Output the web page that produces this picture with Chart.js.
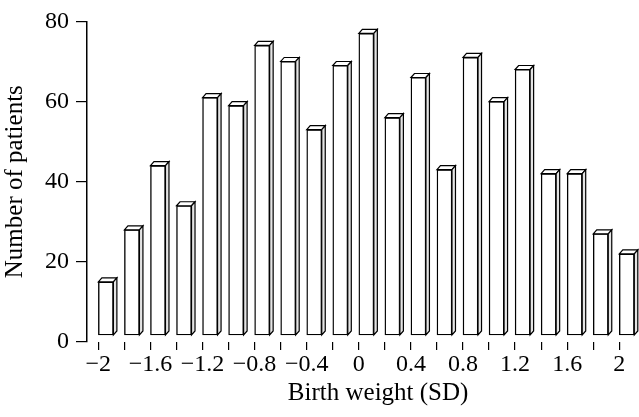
<!DOCTYPE html>
<html><head><meta charset="utf-8">
<script src="https://cdn.jsdelivr.net/npm/chart.js@4/dist/chart.umd.min.js"></script>
<style>html,body{margin:0;padding:0;background:#fff}#wrap{width:639px;height:417px}</style>
</head><body><div id="wrap"><canvas id="c" width="639" height="417"></canvas></div>
<script>
// ---- data ----
const birthWeightSD = [-2, -1.8, -1.6, -1.4, -1.2, -1, -0.8, -0.6, -0.4, -0.2, 0, 0.2, 0.4, 0.6, 0.8, 1, 1.2, 1.4, 1.6, 1.8, 2];
const patientCounts = [15, 28, 44, 34, 61, 59, 74, 70, 53, 69, 77, 56, 66, 43, 71, 60, 68, 42, 42, 27, 22];
const xTickValues = [-2, -1.8, -1.6, -1.4, -1.2, -1, -0.8, -0.6, -0.4, -0.2, 0, 0.2, 0.4, 0.6, 0.8, 1, 1.2, 1.4, 1.6, 1.8, 2];
const xTickLabels = ['\u22122', '', '\u22121.6', '', '\u22121.2', '', '\u22120.8', '', '\u22120.4', '', '0', '', '0.4', '', '0.8', '', '1.2', '', '1.6', '', '2'];
const yTickValues = [0, 20, 40, 60, 80];

// ---- layout config ----
const X_MIN = -2.087, X_MAX = 2.144, BAR_SHIFT = 0.058;
const FONT = 'Liberation Serif';

const depthPlugin = {
  id: 'depth',
  afterDatasetsDraw(chart) {
    const ctx = chart.ctx;
    const meta = chart.getDatasetMeta(0);
    const dx = 3.5, dy = 4;
    ctx.save();
    ctx.lineWidth = 1.2;
    ctx.strokeStyle = '#000';
    meta.data.forEach(bar => {
      const p = bar.getProps(['x', 'y', 'base', 'width'], true);
      const L = p.x - p.width / 2, R = p.x + p.width / 2, T = p.y, B = p.base;
      ctx.beginPath();
      ctx.moveTo(L, T); ctx.lineTo(L + dx, T - dy); ctx.lineTo(R + dx, T - dy); ctx.lineTo(R, T); ctx.closePath();
      ctx.fillStyle = '#fff'; ctx.fill(); ctx.stroke();
      ctx.beginPath();
      ctx.moveTo(R, T); ctx.lineTo(R + dx, T - dy); ctx.lineTo(R + dx, B - dy); ctx.lineTo(R, B); ctx.closePath();
      ctx.fillStyle = '#e4e4e4'; ctx.fill(); ctx.stroke();
    });
    ctx.restore();
  }
};

new Chart(document.getElementById('c'), {
  type: 'bar',
  data: {
    datasets: [{
      data: birthWeightSD.map((x, i) => ({ x: x, y: patientCounts[i] })),
      xAxisID: 'xb',
      yAxisID: 'y',
      base: 1.75,
      backgroundColor: '#fff',
      borderColor: '#000',
      borderWidth: 1.4,
      borderSkipped: false,
      barThickness: 15
    }]
  },
  options: {
    responsive: false,
    animation: false,
    devicePixelRatio: 1,
    layout: { padding: { top: 21, right: 1, bottom: 9, left: 0 } },
    plugins: { legend: { display: false }, tooltip: { enabled: false } },
    scales: {
      x: {
        type: 'linear', position: 'bottom', min: X_MIN, max: X_MAX, offset: false,
        afterBuildTicks: ax => { ax.ticks = xTickValues.map(v => ({ value: v })); },
        ticks: { callback: (v, i) => xTickLabels[i], color: '#000', font: { family: FONT, size: 24 }, padding: 0, maxRotation: 0, autoSkip: false },
        grid: { offset: false, drawOnChartArea: false, tickLength: 8, color: '#000', lineWidth: 1.2 },
        border: { display: false },
        title: { display: true, text: '     Birth weight (SD)', color: '#000', font: { family: FONT, size: 25 }, padding: 0 },
        afterFit: s => { s.height = 66; }
      },
      xb: { type: 'linear', position: 'bottom', display: false, offset: false, grid: { offset: false }, min: X_MIN - BAR_SHIFT, max: X_MAX - BAR_SHIFT },
      y: {
        min: 0, max: 80,
        afterBuildTicks: ax => { ax.ticks = yTickValues.map(v => ({ value: v })); },
        ticks: { color: '#000', font: { family: FONT, size: 24 }, padding: 7 },
        grid: { drawOnChartArea: false, tickLength: 11, color: '#000', lineWidth: 1.2 },
        border: { display: true, color: '#000', width: 1.5 },
        title: { display: true, text: 'Number of patients', color: '#000', font: { family: FONT, size: 25 }, padding: 0 },
        afterFit: s => { s.width = 87; }
      }
    }
  },
  plugins: [depthPlugin]
});
</script>
</body></html>
